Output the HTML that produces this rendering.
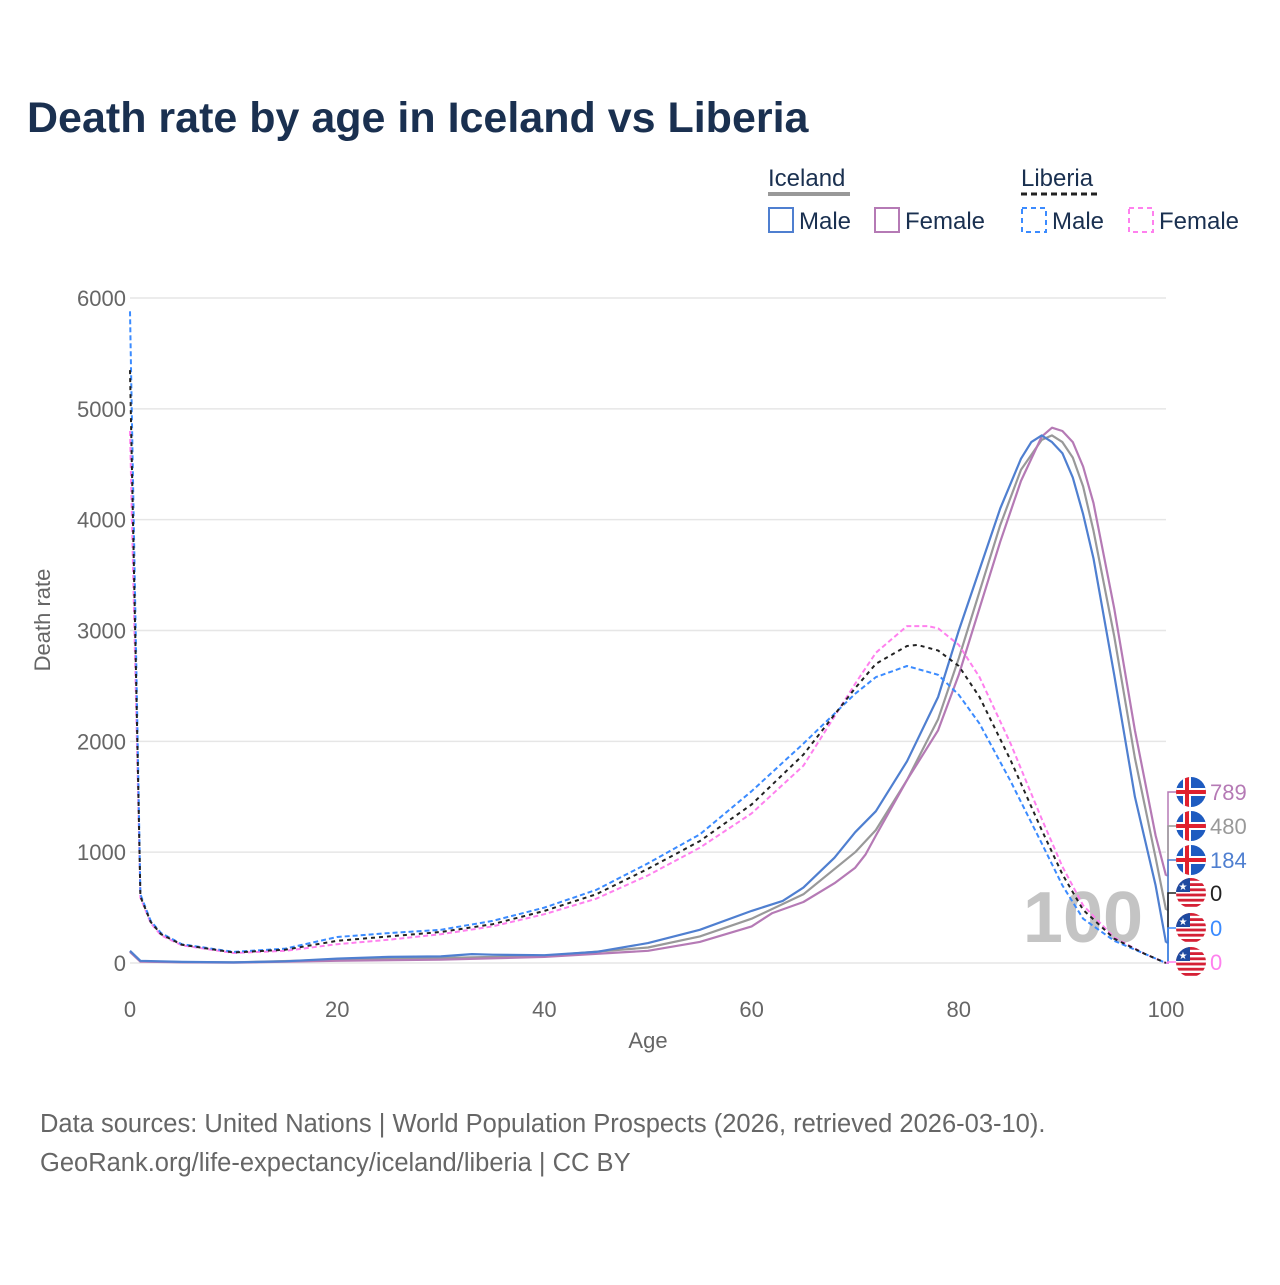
<!DOCTYPE html>
<html><head><meta charset="utf-8">
<style>
html,body{margin:0;padding:0;background:#fff;}
body{width:1280px;height:1280px;overflow:hidden;font-family:"Liberation Sans",sans-serif;}
</style></head>
<body>
<svg id="chart" width="1280" height="1280" xmlns="http://www.w3.org/2000/svg" font-family="Liberation Sans, sans-serif">
<text x="27" y="132" font-size="43" font-weight="bold" fill="#1a3050">Death rate by age in Iceland vs Liberia</text>
<g>
  <text x="768" y="186" font-size="24" fill="#1a3050">Iceland</text>
  <line x1="768" y1="194" x2="850" y2="194" stroke="#999" stroke-width="4"/>
  <text x="1021" y="186" font-size="24" fill="#1a3050">Liberia</text>
  <line x1="1021" y1="194" x2="1099" y2="194" stroke="#222" stroke-width="3" stroke-dasharray="6,4"/>
  <g><rect x="769" y="208" width="24" height="24" fill="none" stroke="#4f7fd0" stroke-width="2"/><text x="799" y="229" font-size="24" fill="#1a3050">Male</text></g>
  <g><rect x="875" y="208" width="24" height="24" fill="none" stroke="#b57ab5" stroke-width="2"/><text x="905" y="229" font-size="24" fill="#1a3050">Female</text></g>
  <g><rect x="1022" y="208" width="24" height="24" fill="none" stroke="#3b8bff" stroke-width="2" stroke-dasharray="5,4"/><text x="1052" y="229" font-size="24" fill="#1a3050">Male</text></g>
  <g><rect x="1129" y="208" width="24" height="24" fill="none" stroke="#ff80ee" stroke-width="2" stroke-dasharray="5,4"/><text x="1159" y="229" font-size="24" fill="#1a3050">Female</text></g>
</g>
<g id="grid"></g>
<g id="axes"></g>
<text x="1083" y="942" font-size="72" font-weight="bold" fill="#c4c4c4" text-anchor="middle">100</text>
<g id="series"></g>
<g id="endlabels"></g>
<text transform="translate(50,620) rotate(-90)" font-size="22" fill="#666" text-anchor="middle">Death rate</text>
<text x="648" y="1048" font-size="22" fill="#666" text-anchor="middle">Age</text>
<text x="40" y="1132" font-size="25.5" fill="#666">Data sources: United Nations | World Population Prospects (2026, retrieved 2026-03-10).</text>
<text x="40" y="1171" font-size="25.5" fill="#666">GeoRank.org/life-expectancy/iceland/liberia | CC BY</text>
</svg>
<script>
const yTicks=[0,1000,2000,3000,4000,5000,6000];
const xTicks=[0,20,40,60,80,100];
const libMaleAges=[0,1,2,3,5,10,15,20,25,30,35,40,45,50,55,60,65,70,72,75,78,80,82,85,88,90,92,95,98,100];
const libMale=[5880,620,380,270,170,100,130,235,270,300,380,500,660,900,1160,1550,1980,2430,2580,2680,2600,2420,2160,1640,1080,700,400,200,80,0];
const libBothAges=[0,1,2,3,5,10,15,20,25,30,35,40,45,50,55,60,65,70,72,75,76,78,80,82,85,88,90,92,95,98,100];
const libBoth=[5350,600,370,260,165,95,120,200,240,280,350,470,620,850,1100,1430,1880,2480,2700,2860,2870,2820,2680,2400,1830,1200,800,480,220,80,0];
const libFemaleAges=[0,1,2,3,5,10,15,20,25,30,35,40,45,50,55,60,65,70,72,75,77,78,80,82,85,88,90,92,95,98,100];
const libFemale=[4800,590,360,250,160,90,110,170,210,260,330,440,580,790,1040,1350,1780,2520,2800,3040,3040,3020,2870,2580,1980,1300,870,520,230,80,0];
const iceMaleAges=[0,1,5,10,15,20,25,30,33,35,40,45,50,55,60,63,65,68,70,72,75,78,80,82,84,86,87,88,89,90,91,92,93,95,97,99,100];
const iceMale=[110,20,10,5,15,40,55,60,80,75,70,100,180,300,470,560,680,950,1180,1370,1820,2400,3000,3550,4100,4550,4700,4760,4700,4600,4380,4050,3650,2600,1500,700,184];
const iceBothAges=[0,1,5,10,20,30,40,50,55,60,65,70,72,75,78,80,82,84,86,88,89,90,91,92,93,95,97,99,100];
const iceBoth=[105,15,8,5,30,45,65,140,240,400,620,1000,1200,1650,2200,2750,3350,3950,4450,4720,4760,4700,4560,4300,3900,2950,1850,950,480];
const iceFemaleAges=[0,1,5,10,20,30,40,50,55,60,62,65,68,70,71,72,75,78,80,82,84,86,88,89,90,91,92,93,95,97,99,100];
const iceFemale=[100,12,6,4,20,30,55,110,190,330,450,550,720,860,980,1150,1650,2100,2600,3200,3800,4350,4750,4830,4800,4700,4480,4150,3200,2100,1150,789];
const endValues=["789","480","184","0","0","0"];

const X=a=>130+a*10.36;
const Y=v=>963-v*0.11083;
const NS="http://www.w3.org/2000/svg";
function mk(t,attrs,parent){const e=document.createElementNS(NS,t);for(const k in attrs)e.setAttribute(k,attrs[k]);parent.appendChild(e);return e;}
const grid=document.getElementById('grid'),axes=document.getElementById('axes'),series=document.getElementById('series'),endl=document.getElementById('endlabels');
yTicks.forEach(v=>{
  const l=mk('line',{x1:130,x2:1166,y1:Y(v),y2:Y(v),stroke:'#e6e6e6','stroke-width':1.5},grid);
  
  
  const t=mk('text',{x:126,y:Y(v)+8,'font-size':22,fill:'#666','text-anchor':'end'},axes);
  t.textContent=v;
  
  
});
xTicks.forEach(v=>{
  const t=mk('text',{x:X(v),y:1017,'font-size':22,fill:'#666','text-anchor':'middle'},axes);
  t.textContent=v;
  
  
});
function line(ages,vals,color,dash,name,w){
  const d=ages.map((a,i)=>(i?'L':'M')+X(a).toFixed(1)+','+Y(vals[i]).toFixed(1)).join('');
  const p=mk('path',{d:d,fill:'none',stroke:color,'stroke-width':w||2,'stroke-linejoin':'round'},series);
  if(dash)p.setAttribute('stroke-dasharray',dash);
  
  
}
line(iceBothAges,iceBoth,'#999',null,'line-iceland-both',2.2);
line(iceFemaleAges,iceFemale,'#b57ab5',null,'line-iceland-female',2.2);
line(iceMaleAges,iceMale,'#4f7fd0',null,'line-iceland-male',2.2);
line(libFemaleAges,libFemale,'#ff80ee','5,3','line-liberia-female',2);
line(libMaleAges,libMale,'#3b8bff','5,3','line-liberia-male',2);
line(libBothAges,libBoth,'#222','4,4','line-liberia-both',2);

const cols=['#b57ab5','#999','#4f7fd0','#222','#3b8bff','#ff80ee'];
const ys=[792,826,860,893,928,962];
const startY=[Y(iceFemale[iceFemale.length-1]),Y(iceBoth[iceBoth.length-1]),Y(iceMale[iceMale.length-1]),Y(0),Y(0),Y(0)];
ys.forEach((y,i)=>{
  mk('path',{d:`M1166,${startY[i]} L1168,${startY[i]} L1168,${y} L1176,${y}`,fill:'none',stroke:cols[i],'stroke-width':1.5},endl);
  const g=mk('g',{},endl);
  
  
  const cid='c'+i;
  const cp=mk('clipPath',{id:cid},g);mk('circle',{cx:1191,cy:y,r:15},cp);
  const gg=mk('g',{'clip-path':`url(#${cid})`},g);
  if(i<3){
    mk('rect',{x:1176,y:y-15,width:30,height:30,fill:'#1e5bc0'},gg);
    mk('rect',{x:1176,y:y-4,width:30,height:8,fill:'#fff'},gg);
    mk('rect',{x:1183,y:y-15,width:8,height:30,fill:'#fff'},gg);
    mk('rect',{x:1176,y:y-2,width:30,height:4,fill:'#e0202e'},gg);
    mk('rect',{x:1185,y:y-15,width:4,height:30,fill:'#e0202e'},gg);
  }else{
    mk('rect',{x:1176,y:y-15,width:30,height:30,fill:'#fff'},gg);
    for(let k=0;k<6;k++)mk('rect',{x:1176,y:y-15+k*5.2,width:30,height:2.8,fill:'#d52035'},gg);
    mk('rect',{x:1176,y:y-15,width:14,height:14,fill:'#1e4aa0'},gg);
    mk('text',{x:1183,y:y-3,'font-size':10,fill:'#fff','text-anchor':'middle'},gg).textContent='★';
  }
  const t=mk('text',{x:1210,y:y+8,'font-size':22,fill:cols[i]},endl);
  t.textContent=endValues[i];
  
  
});
</script>
</body></html>
